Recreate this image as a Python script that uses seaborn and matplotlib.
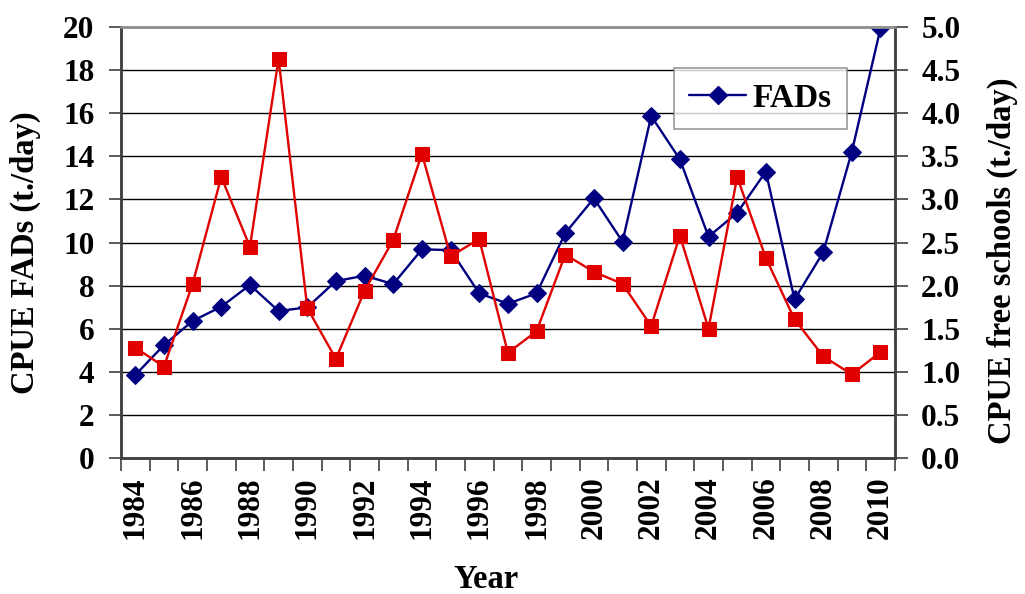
import matplotlib
matplotlib.use("Agg")
import matplotlib.pyplot as plt
import seaborn as sns
import numpy as np
import pandas as pd
from matplotlib.lines import Line2D

sns.set_style("white")
plt.rcParams["font.family"] = ["Liberation Serif", "DejaVu Serif"]
plt.rcParams["font.weight"] = "bold"
for key in ("text.color", "axes.labelcolor", "xtick.color", "ytick.color"):
    plt.rcParams[key] = "black"

# Annual CPUE series
years = list(range(1984, 2011))
cpue_fads = [3.85, 5.24, 6.36, 7.02, 8.03, 6.82, 6.99, 8.21, 8.46, 8.07,
             9.68, 9.65, 7.64, 7.16, 7.64, 10.43, 12.05, 10.04, 15.87, 13.86,
             10.27, 11.38, 13.29, 7.36, 9.54, 14.21, 19.94]
cpue_free = [1.28, 1.06, 2.02, 3.26, 2.45, 4.63, 1.74, 1.15, 1.94, 2.53,
             3.53, 2.34, 2.54, 1.22, 1.47, 2.36, 2.16, 2.02, 1.53, 2.58,
             1.50, 3.26, 2.32, 1.61, 1.18, 0.97, 1.23]
left_ticks = [0, 2, 4, 6, 8, 10, 12, 14, 16, 18, 20]
right_ticks = [0.0, 0.5, 1.0, 1.5, 2.0, 2.5, 3.0, 3.5, 4.0, 4.5, 5.0]
label_years = list(range(1984, 2011, 2))

df = pd.DataFrame({"year": years, "fads": cpue_fads, "free": cpue_free})

BLUE = "#000080"
RED = "#E00000"
TICK_FS = 22.5
LABEL_FS = 23.5

fig = plt.figure(figsize=(10.25, 5.94), dpi=100)
ax = fig.add_axes([0.118, 0.229, 0.755, 0.7255])
ax2 = ax.twinx()

sns.lineplot(data=df, x="year", y="fads", ax=ax, color=BLUE, marker="D",
             markersize=9, linewidth=1.7, markeredgecolor=BLUE, legend=False)
sns.lineplot(data=df, x="year", y="free", ax=ax2, color=RED, marker="s",
             markersize=10.5, linewidth=1.7, markeredgecolor=RED, legend=False)

ax.set_xlim(years[0] - 0.5, years[-1] + 0.5)
ax.set_ylim(0, 20)
ax2.set_ylim(0, 5)

# horizontal gridlines
for v in left_ticks[1:-1]:
    ax.axhline(v, color="black", linewidth=1.0, zorder=0)

ax.set_yticks(left_ticks)
ax.set_yticklabels([str(v) for v in left_ticks], fontsize=TICK_FS, fontweight="bold")
ax2.set_yticks(right_ticks)
ax2.set_yticklabels([f"{v:.1f}" for v in right_ticks], fontsize=TICK_FS, fontweight="bold")

# category boundary ticks, labels at every other year
ax.set_xticks(np.arange(years[0] - 0.5, years[-1] + 1.0, 1.0))
ax.set_xticklabels([])
ax.set_xticks(label_years, minor=True)
ax.set_xticklabels([str(y) for y in label_years], minor=True, rotation=90,
                   fontsize=TICK_FS, fontweight="bold")
ax.tick_params(axis="x", which="major", direction="out", length=9, width=1.2,
               color="#404040", bottom=True)
ax.tick_params(axis="x", which="minor", length=0, pad=13, bottom=True)
ax.tick_params(axis="y", direction="out", length=9, width=1.2, color="#404040",
               left=True, pad=10)
ax2.tick_params(axis="y", direction="out", length=9, width=1.2, color="#404040",
                right=True, pad=10)

ax.set_xlabel("Year", fontsize=LABEL_FS, fontweight="bold")
ax.set_ylabel("CPUE FADs (t./day)", fontsize=LABEL_FS, fontweight="bold")
ax2.set_ylabel("CPUE free schools (t./day)", fontsize=LABEL_FS, fontweight="bold")
ax.xaxis.label.set_va("center")
ax.yaxis.label.set_va("center")
ax2.yaxis.label.set_va("center")
ax.xaxis.set_label_coords(0.4716, -0.283)
ax.yaxis.set_label_coords(-0.124, 0.476)
ax2.yaxis.set_label_coords(1.1395, 0.457)

for a in (ax, ax2):
    for side in ("left", "right", "bottom"):
        a.spines[side].set_color("#404040")
        a.spines[side].set_linewidth(1.8)
    a.spines["top"].set_color("#909090")
    a.spines["top"].set_linewidth(1.8)

handle = Line2D([], [], color=BLUE, marker="D", markersize=9, linewidth=1.7)
leg = ax2.legend([handle], ["FADs"], loc="upper right",
                 bbox_to_anchor=(0.938, 0.905), borderaxespad=0.0,
                 frameon=True, fancybox=False,
                 handlelength=1.7, borderpad=0.45, handletextpad=0.2,
                 prop={"family": "Liberation Serif", "weight": "bold", "size": 24})
leg.get_frame().set_edgecolor("#808080")
leg.get_frame().set_linewidth(1.2)

fig.savefig("out.png", dpi=100)
